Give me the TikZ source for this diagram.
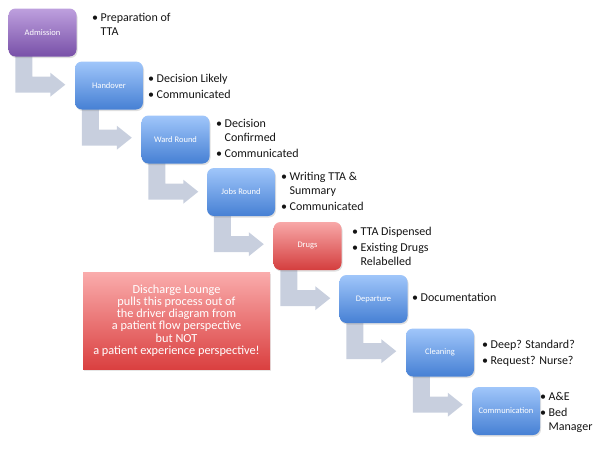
\documentclass[tikz,border=0pt]{standalone}
\usepackage{fontspec}
\setmainfont{Carlito}
\usetikzlibrary{shadows,calc}
\definecolor{arrowc}{RGB}{200,207,222}
\definecolor{blueT}{RGB}{160,198,250}
\definecolor{blueB}{RGB}{70,128,212}
\definecolor{purpT}{RGB}{190,160,222}
\definecolor{purpB}{RGB}{120,80,168}
\definecolor{redT}{RGB}{248,168,168}
\definecolor{redB}{RGB}{212,62,62}
\definecolor{dlT}{RGB}{250,172,172}
\definecolor{dlB}{RGB}{218,64,64}
\definecolor{txt}{RGB}{20,20,20}
\pgfdeclarelayer{bg}
\pgfsetlayers{bg,main}
\tikzset{
  stepbox/.style={rounded corners=7pt, minimum width=68pt, minimum height=48pt,
    text=white, font=\fontsize{8.5}{9}\selectfont, inner sep=1pt,
    drop shadow={opacity=0.25,shadow xshift=1pt,shadow yshift=-1.5pt}},
  bluebox/.style={stepbox, top color=blueT, bottom color=blueB},
  purpbox/.style={stepbox, top color=purpT, bottom color=purpB},
  redbox/.style={stepbox, top color=redT, bottom color=redB},
  notebox/.style={minimum width=187pt, minimum height=97pt, top color=dlT, bottom color=dlB,
    text=white, font=\fontsize{12.3}{12.3}\selectfont, align=center, inner sep=2pt,
    drop shadow={opacity=0.2,shadow xshift=1pt,shadow yshift=-1.5pt}},
  bullets/.style={anchor=base west, inner sep=0pt, font=\fontsize{12}{13.5}\selectfont, text=txt},
  bent/.style={fill=arrowc, draw=none}
}
\newcommand\bentarrow[1]{%
  \fill[bent] let \p1=(#1.south west) in
    (\x1+7pt,\y1+2pt) -- (\x1+7pt,\y1-36pt) -- (\x1+42pt,\y1-36pt) -- (\x1+42pt,\y1-40pt)
    -- (\x1+57pt,\y1-28pt) -- (\x1+42pt,\y1-16pt) -- (\x1+42pt,\y1-20pt)
    -- (\x1+24pt,\y1-20pt) -- (\x1+24pt,\y1+2pt) -- cycle;}
\newcommand\blist[1]{\begin{tabular}[t]{@{}l@{\hspace{2.5pt}}l@{}}#1\end{tabular}}
\begin{document}
\begin{tikzpicture}[x=1pt,y=-1pt]
\useasboundingbox (0,0) rectangle (600,450);
% step boxes
\node[purpbox] (adm) at (42.5,32.5) {Admission};
\node[bluebox] (hand) at (109,85.5) {Handover};
\node[bluebox] (ward) at (175.5,139.5) {Ward Round};
\node[bluebox] (jobs) at (241,192) {Jobs Round};
\node[redbox] (drugs) at (307.5,246) {Drugs};
\node[bluebox] (dep) at (373.5,299) {Departure};
\node[bluebox] (clean) at (440,352.5) {Cleaning};
\node[bluebox] (comm) at (506,411) {Communication};
% note
\node[notebox] (note) at (176.5,320.5) {Discharge Lounge\\pulls this process out of\\the driver diagram from\\a patient flow perspective\\but NOT\\a patient experience perspective!};
% arrows
\begin{pgfonlayer}{bg}
\bentarrow{adm}
\bentarrow{hand}
\bentarrow{ward}
\bentarrow{jobs}
\bentarrow{drugs}
\bentarrow{dep}
\bentarrow{clean}
\end{pgfonlayer}
% bullet lists
\node[bullets] (tadm) at (92,21.5) {\blist{\textbullet & Preparation of\\ & TTA}};
\node[bullets] (thand) at (148,82.5) {\blist{\textbullet & Decision Likely\\[2.5pt] \textbullet & Communicated}};
\node[bullets] (tward) at (216,127.5) {\blist{\textbullet & Decision\\ & Confirmed\\[2.5pt] \textbullet & Communicated}};
\node[bullets] (tjobs) at (281,180.5) {\blist{\textbullet & Writing TTA \&\\ & Summary\\[2.5pt] \textbullet & Communicated}};
\node[bullets] (tdrugs) at (352,235.5) {\blist{\textbullet & TTA Dispensed\\[2.5pt] \textbullet & Existing Drugs\\ & Relabelled}};
\node[bullets] (tdep) at (412,301.5) {\blist{\textbullet & Documentation}};
\node[bullets] (tclean) at (482,348.5) {\blist{\textbullet & Deep? Standard?\\[2.5pt] \textbullet & Request? Nurse?}};
\node[bullets] (tcomm) at (540,400.5) {\blist{\textbullet & A\&E\\[2.5pt] \textbullet & Bed\\ & Manager}};
\end{tikzpicture}
\end{document}
